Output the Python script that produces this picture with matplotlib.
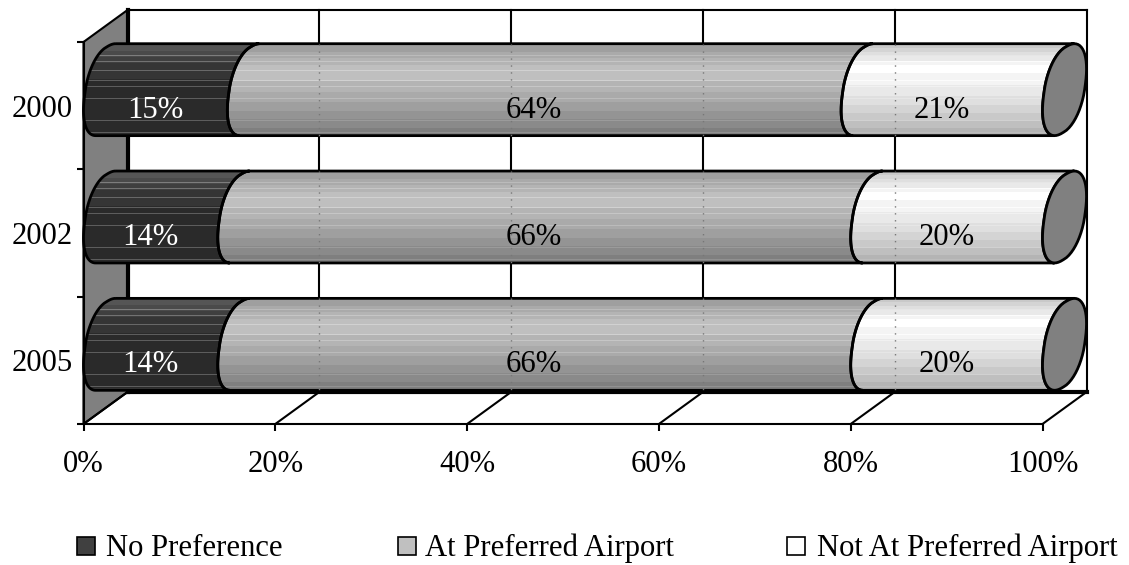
import matplotlib
matplotlib.use("Agg")
import matplotlib.pyplot as plt
import numpy as np
from matplotlib.patches import Polygon, PathPatch, Rectangle
from matplotlib.path import Path
from matplotlib.colors import LinearSegmentedColormap

plt.rcParams['font.family'] = ['Liberation Serif', 'DejaVu Serif']

years = ['2000', '2002', '2005']
no_pref = [15, 14, 14]
at_pref = [64, 66, 66]
not_at = [21, 20, 20]
series_names = ['No Preference', 'At Preferred Airport', 'Not At Preferred Airport']
x_ticks = [0, 20, 40, 60, 80, 100]

W, H = 1129, 565
FS = 22.1

# 3d look, all sizes in data units (1% = 9.59px, one row = 127.3px)
depth_x = 4.59
depth_y = -0.2513
cap_x = depth_x / 2
cap_y = 0.361
phi = np.radians(25)

fig = plt.figure(figsize=(W / 100, H / 100), dpi=100)
ax = fig.add_axes([83.5 / W, (H - 424) / H, 959 / W, 382 / H])


def cap_pts(v, row, t0=90, t1=270):
    # skewed ellipse standing at value v, a bit squarer than a true one
    t = np.radians(np.linspace(t0, t1, 60)) - phi
    c = np.cos(t)
    s = np.sin(t + phi)
    x = v + cap_x + cap_x * np.sign(c) * np.abs(c) ** 0.92
    y = row + depth_y / 2 - cap_y * np.sign(s) * np.abs(s) ** 0.92
    return x, y


def gradient(stops, streak):
    cm = LinearSegmentedColormap.from_list('g', stops)
    g = cm(np.linspace(0, 1, 92))[:, :3]
    # the picture has flat bands and thin pale lines
    g = np.round(g * 24) / 24
    for p in [11, 17, 26, 36, 42, 54, 76, 88]:
        g[p] = np.minimum(g[p] + streak, 1)
    return g[:, None, :]


grads = [
    gradient([(0, '#5a5a5a'), (0.25, '#333333'), (0.6, '#2a2a2a'), (1, '#303030')], 0.2),
    gradient([(0, '#9a9a9a'), (0.3, '#c4c4c4'), (0.6, '#a8a8a8'), (1, '#7c7c7c')], 0.07),
    gradient([(0, '#c8c8c8'), (0.25, '#ffffff'), (0.6, '#e2e2e2'), (1, '#b0b0b0')], 0.03),
]

# back wall, floor and grid
ax.add_patch(Polygon([(0, -0.5), (depth_x, -0.5 + depth_y), (depth_x, 2.5 + depth_y), (0, 2.5)],
                     fc='#808080', ec='k', lw=1.5, zorder=1, clip_on=False))
for v in x_ticks:
    ax.plot([v + depth_x, v + depth_x], [-0.5 + depth_y, 2.5 + depth_y], color='k',
            lw=3 if v == 0 else 1.5, zorder=1, clip_on=False)
    ax.plot([v, v + depth_x], [2.5, 2.5 + depth_y], color='k', lw=1.5, zorder=1, clip_on=False)
ax.plot([depth_x, 100 + depth_x], [-0.5 + depth_y] * 2, color='k', lw=1.5, zorder=1, clip_on=False)
ax.plot([depth_x, 100 + depth_x], [2.5 + depth_y] * 2, color='k', lw=3, zorder=1, clip_on=False)

# cylinders
for row, vals in enumerate(zip(no_pref, at_pref, not_at)):
    left = 0
    for i, val in enumerate(vals):
        x0, y0 = cap_pts(left, row)
        x1, y1 = cap_pts(left + val, row)
        verts = np.r_[np.c_[x0, y0], np.c_[x1, y1][::-1], [[x0[0], y0[0]]]]
        patch = PathPatch(Path(verts), fc='none', ec='k', lw=2, zorder=4, clip_on=False)
        ax.add_patch(patch)
        im = ax.imshow(grads[i], aspect='auto', zorder=3, interpolation='nearest',
                       extent=(left, left + val + depth_x,
                               row + depth_y / 2 + cap_y, row + depth_y / 2 - cap_y))
        im.set_clip_box(fig.bbox)
        im.set_clip_path(patch)
        # label sits on the front plane
        ax.text(left + val / 2, row + 0.035, '%d%%' % val, ha='center', va='center', fontsize=FS,
                color='white' if i == 0 else 'black', zorder=7)
        left += val
    xe, ye = cap_pts(left, row, 0, 360)
    ax.add_patch(Polygon(np.c_[xe, ye], fc='#808080', ec='k', lw=2, zorder=6, clip_on=False))
    # grid shows through faintly
    for v in x_ticks[1:-1]:
        ax.plot([v + depth_x] * 2, [row + depth_y / 2 - cap_y, row + depth_y / 2 + cap_y],
                color='#777777', lw=1, ls=(0, (1, 4)), zorder=5, clip_on=False)

ax.set_xlim(0, 100)
ax.set_ylim(2.5, -0.5)
ax.set_xticks(x_ticks)
ax.set_xticklabels(['%d%%' % v for v in x_ticks], fontsize=FS)
ax.set_yticks([-0.5, 0.5, 1.5, 2.5])
ax.set_yticklabels([])
ax.set_yticks([0, 1, 2], minor=True)
ax.set_yticklabels(years, minor=True, fontsize=FS)
ax.tick_params(axis='x', length=5, width=1.5, pad=14)
ax.tick_params(axis='y', which='major', length=5, width=1.5)
ax.tick_params(axis='y', which='minor', length=0, pad=8)
ax.patch.set_visible(False)
for s in ['top', 'right']:
    ax.spines[s].set_visible(False)
for s in ['left', 'bottom']:
    ax.spines[s].set_linewidth(1.5)

# legend
box_x = [77, 398, 787]
text_x = [106, 425, 817]
box_cols = ['#404040', '#c0c0c0', '#ffffff']
for bx, tx, c, name in zip(box_x, text_x, box_cols, series_names):
    fig.add_artist(Rectangle((bx / W, (H - 555) / H), 18 / W, 18 / H, fc=c, ec='k', lw=1.2,
                             transform=fig.transFigure))
    fig.text(tx / W, (H - 548) / H, name, fontsize=FS, ha='left', va='center')

fig.savefig('out.png', dpi=100)
